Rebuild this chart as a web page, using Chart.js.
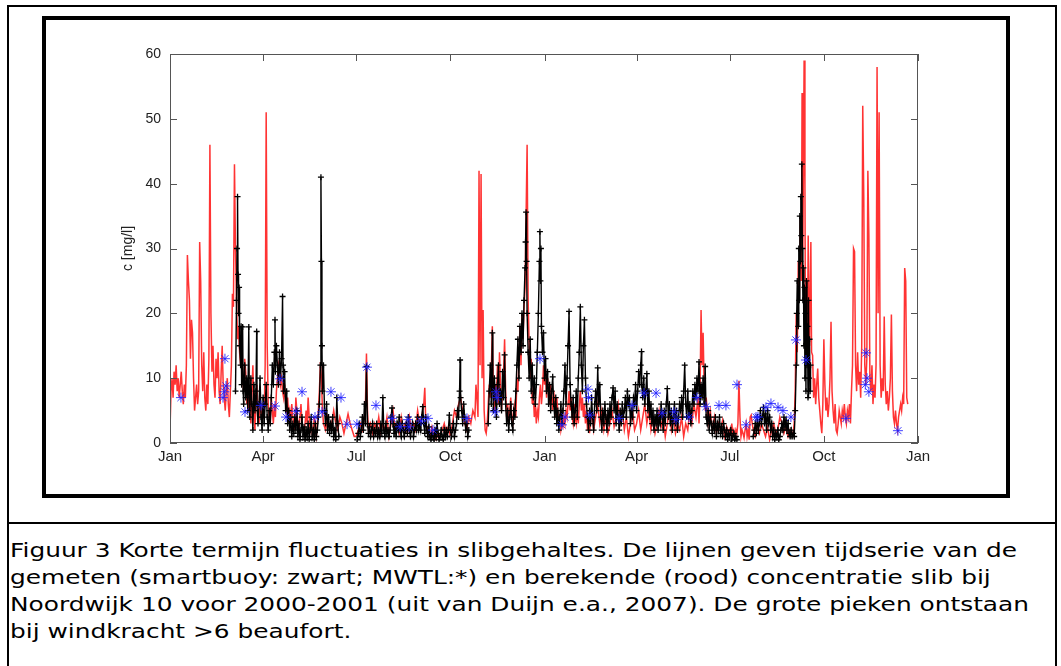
<!DOCTYPE html>
<html>
<head>
<meta charset="utf-8">
<script src="https://cdn.jsdelivr.net/npm/chart.js@4.4.1/dist/chart.umd.min.js"></script>
<style>
  body { margin: 0; background: #fff; }
  #outer { position: absolute; left: 7px; top: 5px; width: 1046px; height: 700px; border: 2px solid #000; }
  #frame { position: absolute; left: 42px; top: 16px; width: 960px; height: 474px; border: 4px solid #000; }
  #sep { position: absolute; left: 7px; top: 522px; width: 1050px; border-top: 2px solid #000; }
  #caption { position: absolute; left: 10px; top: 537px; font-family: "DejaVu Sans", Verdana, sans-serif;
             font-size: 19px; line-height: 27px; color: #000; white-space: nowrap;
             transform: scaleX(1.307); transform-origin: 0 0; }
  #chart { position: absolute; left: 46px; top: 20px; }
</style>
</head>
<body>
<div id="outer"></div>
<div id="frame"></div>
<canvas id="chart" width="960" height="474"></canvas>
<div id="sep"></div>
<div id="caption">Figuur 3 Korte termijn fluctuaties in slibgehaltes. De lijnen geven tijdserie van de<br>gemeten (smartbuoy: zwart; MWTL:*) en berekende (rood) concentratie slib bij<br>Noordwijk 10 voor 2000-2001 (uit van Duijn e.a., 2007). De grote pieken ontstaan<br>bij windkracht &gt;6 beaufort.</div>

<script>
// days since 1 Jan 2000
const xTickDays = [0, 91, 182, 274, 366, 456, 547, 639, 731];
const xTickLabels = ['Jan', 'Apr', 'Jul', 'Oct', 'Jan', 'Apr', 'Jul', 'Oct', 'Jan'];

// berekend (rood): [day, mg/l]
const modelSeries = [
  [0,2],[1,8],[2,10],[3,7],[4,11],[5,9],[6,12],[7,8],[8,10],[9,7],[10,9],[11,11],[12,8],[13,6],[14,9],[15,7],[16,12],
  [17,29],[18,25],[19,22],[20,13],[21,19],[22,17],[23,10],[24,5],[25,7],[26,9],[27,6],[28,8],[29,31],[30,25],[31,12],
  [32,8],[33,14],[34,7],[35,5],[36,9],[37,6],[38,13],[39,46],[40,20],[41,11],[42,15],[43,9],[44,7],[45,13],[46,10],
  [47,14],[48,8],[49,6],[50,11],[51,15],[52,9],[53,7],[54,5],[55,8],[56,10],[57,6],[58,4],[59,8],[60,12],[61,23],
  [62,21],[63,43],[64,30],[65,22],[66,16],[67,18],[68,14],[69,12],[70,15],[71,10],[72,8],[73,13],[74,11],[75,6],
  [76,9],[77,5],[78,7],[79,3],[80,8],[81,12],[82,5],[83,2],[84,6],[85,9],[86,4],[87,3],[88,7],[89,5],[90,3],[91,6],
  [92,4],[93,12],[94,51],[95,15],[96,6],[97,4],[98,3],[99,7],[100,5],[101,3],[102,6],[103,4],[104,8],[105,10],
  [106,12],[107,11],[108,9],[109,10],[110,8],[111,7],[112,9],[113,6],[114,5],[115,7],[116,4],[117,5],[118,3],[119,6],
  [120,4],[121,3],[122,2],[123,7],[124,5],[125,3],[126,2],[127,4],[128,6],[129,3],[130,2],[131,1.5],[132,3],[133,5],
  [134,3],[135,7],[136,4],[137,2],[138,3],[139,1.5],[140,2],[141,4],[142,2],[143,1],[144,3],[145,5],[146,8],
  [147,12.5],[148,10],[149,5],[150,3],[152,2],[154,4],[156,2.5],[158,3],[160,5],[162,3],[164,2],[166,4],[168,3],
  [170,1.5],[172,3],[174,4.5],[176,3],[178,2],[180,1],[182,1],[184,2],[186,3],[188,2],[190,4],[191,6],[192,13.8],
  [193,5],[194,2],[196,3],[198,1.5],[200,3],[202,2],[204,4],[206,1.5],[208,3],[210,2],[212,4],[214,1],[216,3],
  [218,5],[220,2],[222,3],[224,1.5],[226,4],[228,2],[230,3],[232,1.5],[234,4],[236,2],[238,3],[240,2],[242,5],
  [244,3],[246,4],[248,6],[249,8.5],[250,3],[252,2],[254,1],[256,2.5],[258,1],[260,0.5],[262,1.5],[264,1],[266,2],
  [268,3],[270,1.5],[272,2.5],[274,1],[276,3],[278,5],[280,4],[282,6],[284,7],[286,5],[288,3],[290,2],[292,4],
  [294,3],[296,5],[298,4],[299,9],[300,7],[301,4],[302,42],[303,12],[304,41.5],[305,10],[306,20.5],[307,5],[308,2],
  [309,1.5],[310,3],[311,6],[312,9],[313,7],[314,11],[315,18],[316,8],[317,5],[318,9],[319,7],[320,12],[321,6],
  [322,14],[323,9],[324,5],[325,8],[326,11],[327,16],[328,8],[329,4],[330,6],[331,3],[332,5],[333,7],[334,4],[335,3],
  [336,5],[337,6],[338,4],[339,10],[340,8],[341,13],[342,18],[343,12],[344,20],[345,16],[346,21],[347,24],[348,35],
  [349,46],[350,22],[351,15],[352,10],[353,13],[354,6],[355,8],[356,4],[357,6],[358,3],[359,5],[360,4],[361,7],
  [362,9],[363,6],[364,8],[365,12],[366,9],[367,11],[368,7],[369,10],[370,8],[371,6],[372,9],[373,7],[374,5],[375,8],
  [376,6],[377,4],[378,7],[379,5],[380,3],[381,4],[382,2],[383,3],[384,2.5],[385,4],[386,3],[387,5],[388,4],[389,6],
  [390,8],[391,5],[392,7],[393,4],[394,3],[395,6],[396,4],[397,3],[398,5],[399,3],[400,6],[401,8],[402,5],[403,7],
  [404,4],[405,6],[406,3],[407,5],[408,2],[409,4],[410,1.5],[412,5],[414,2],[416,4],[418,6],[420,3],[422,5],[424,2],
  [426,4],[428,1.5],[430,3],[432,5],[434,2.5],[436,4],[438,6],[440,3],[442,5],[444,2],[446,4],[448,1],[450,3],
  [452,5],[454,2],[456,3],[458,5],[460,2],[462,4],[464,6],[466,3],[468,5],[470,2],[472,4],[474,1.5],[476,3],[478,5],
  [480,2.5],[482,4],[484,1],[486,3],[488,5],[490,2],[492,4],[494,1.5],[496,3],[498,2],[500,4],[502,1],[504,3],
  [506,2],[508,5],[510,3],[512,6],[514,4],[516,7],[517,3],[518,8],[519,20.5],[520,12],[521,17],[522,9],[523,5],
  [524,7],[526,3],[528,5],[530,2],[532,4],[534,1.5],[536,3],[538,2],[540,3.5],[542,1],[544,2.5],[546,1.5],[547,2],
  [548,1],[549,3],[550,1.5],[551,2],[552,1],[553,2],[554,1.5],[555,3],[556,9.6],[557,4],[558,1],[559,2],[560,1.5],
  [561,0.8],[562,2],[563,3],[564,1],[565,2],[566,0.5],[567,4],[568,4.3],[569,3],[570,2],[572,1],[574,2.5],[576,1.5],
  [578,3],[580,2],[582,1],[584,2.5],[586,0.5],[588,2],[590,3],[592,1.5],[594,2],[596,4],[598,3],[600,1.5],[602,2.5],
  [604,1],[606,2],[608,1.5],[609,1.5],[610,3],[611,8],[612,20],[613,14],[614,28],[615,22],[616,35],[617,25],
  [617.7,54],[618.5,30],[619.7,59],[620.5,40],[621,18],[622,25],[623,15],[623.7,32],[624.5,20],[625,15],[626.3,31],
  [627,14],[628,13.5],[629,7],[630,10],[631,6],[632,9],[633,11.5],[634,7],[635,5],[636,3],[637,1.5],[638,6],[639,16],
  [640,9],[641,5],[642,7],[643,4],[644,6],[645,10],[646,18.7],[647,8],[648,5],[649,3],[650,6],[651,2],[652,1.5],
  [653,3],[654,5],[655,4],[656,3],[657,5],[658,4],[659,6],[660,4],[661,3],[662,5],[663,4],[664,6],[665,3],[666,8],
  [667,12],[668,30],[669,29.5],[670,12],[671,8],[672,14],[673,9],[674,11],[675,7],[676,15],[677,52],[678,38],
  [679,12],[680,9],[681,13],[682,42],[683,32],[684,10],[685,8],[686,12],[687,6],[688,9],[689,7],[690,12],[691,58],
  [692,20],[693,51],[694,12],[695,7],[696,10],[697,8],[698,19.5],[699,9],[700,6],[701,8],[702,5],[703,7],[704,10],
  [705,19.8],[706,8],[707,4],[708,3],[709,5],[710,3],[711,2],[712,4],[713,5],[714,6],[715,5],[716,7],[717,6],
  [718,27],[719,25],[720,7],[721,6]
];

// gemeten smartbuoy (zwart), null = no data
const buoySeries = [
  [64,8],[65,22],[65.5,30],[66,38],[66.5,26],[67,20],[67.5,24],[68,15],[69,12],[69.5,18],[70,9],[71,17.9],[71.5,8],
  [72,6],[73,12],[74,7],[75,10],[76,5],[77,17.9],[77.5,8],[78,4],[79,10],[80,6],[81,2],[82,9],[83,5],[84,8],
  [84.7,17.2],[85,6],[86,3],[87,6],[88,10],[89,4],[90,2],[91,7],[92,3],[93,6],[94,9],[95,4],[96,2],[97,5],[98,3],
  [99,7],[100,12],[101,9],[102,14],[102.6,19],[103,11],[104,15],[105,12],[106,9],[107,14],[108,10],[109,13],
  [110,22.6],[110.5,12],[111,8],[112,11],[113,5],[114,8],[115,3],[116,5],[117,2],[118,4],[119,1],[120,3],[121,1.5],
  [122,4],[123,2],[124,5],[125,1],[126,3],[127,0.5],[128,2],[129,4],[130,1],[131,2.5],[132,0.5],[133,2],[134,1],
  [135,3],[136,0.5],[137,2],[138,4],[139,1],[140,2],[141,0.5],[142,3],[143,1],[144,2],[145,4],[146,6],[147,12],
  [147.5,41],[148,28],[148.5,15],[149,8],[150,12],[151,5],[152,3],[153,6],[154,2],[155,4],[156,1.5],[157,3],[158,2],
  [159,4],[160,1],[161,2],[162,0.5],[163,7],[164,3],[165,1],
  [170,null],
  [183,0.5],[184,1.5],[185,3],[186,1],[187,2],[188,4],[189,2],[190,6],[191,3],[192,11.8],[193,3],[194,1.5],
  [195,2.5],[196,1],[197,2],[198,3],[199,1],[200,2],[201,1.5],[202,3],[203,1],[204,2],[205,1],[206,3],[207,1.5],
  [208,7],[209,2],[210,1],[211,3],[212,1.5],[213,2],[214,1],[215,2],[216,4],[217,5.4],[218,3],[219,1.5],[220,2.5],
  [221,1],[222,3],[223,2],[224,4],[225,2],[226,1],[227,3],[228,2],[229,1],[230,2],[231,3],[232,1.5],[233,4],[234,2],
  [235,1],[236,2],[237,3],[238,1],[239,2],[240,3],[241,2],[242,4],[243,2],[244,3],[245,2],[246,4],[247,5.6],[248,3],
  [249,1.5],[250,4],[251,2],[252,1],[253,2.5],[254,1],[255,0.5],[256,1.5],[257,1],[258,0.5],[259,2],[260,1],[261,3],
  [262,1.5],[263,0.5],[264,1],[265,2],[266,1],[267,0.5],[268,2],[269,1],[270,2],[271,1],[272,2],[273,4.3],[274,2],
  [275,1],[276,2],[277,3],[278,1],[279,2],[280,3],[281,5],[282,4],[283,8],[283.5,12.8],[284,7],[285,5],[286,3],
  [287,6],[288,4],[289,2],[290,3],[291,1],[292,2],
  [300,null],
  [311,3],[312,8],[313,12],[314,6],[315,17],[315.5,9],[316,5],[317,10],[318,7],[319,4],[320,9],[321,12],[322,6],
  [323,8],[324,5],[325,11],[326,7],[327,13.6],[328,6],[329,3],[330,5],[331,2],[332,4],[333,6],[334,3],[335,2],
  [336,5],[337,4],[338,8],[339,12],[340,16],[341,10],[342,18],[343,14],[344,20],[345,15],[346,22],[347,27],
  [347.5,31],[348,35.6],[348.5,28],[349,20],[350,14],[351,10],[352,16],[353,8],[354,12],[355,7],[356,10],[357,6],
  [358,9],[359,14],[360,20],[361,28],[361.5,32.6],[362,25],[362.5,30],[363,18],[364,14],[365,17],[366,10],[367,13],
  [368,8],[369,11],[370,6],[371,9],[372,5],[373,8],[374,10.2],[375,6],[376,4],[377,7],[378,3],[379,5],[380,2],
  [381,4],[382,6],[383,3],[384,5],[385,8],[386,12],[387,6],[388,10],[389,15],[390,20.3],[391,9],[392,6],[393,4],
  [394,7],[395,3],[396,5],[397,8],[398,4],[399,10],[400,14],[401,21],[402,12],[403,8],[404,15],[405,19],[406,10],
  [407,6],[408,4],[409,2],[410,5],[411,3],[412,7],[413,4],[414,2],[415,6],[416,8],[417,5],[418,11.6],[419,6],[420,9],
  [421,4],[422,2],[423,5],[424,3],[425,6],[426,4],[427,2],[428,5],[429,3],[430,6],[431,4],[432,7],[433,8.5],[434,5],
  [435,8],[436,3],[437,6],[438,4],[439,2],[440,5],[441,3],[442,6],[443,4],[444,5],[445,7],[446,4],[447,8],[448,6],
  [449,7],[450,3],[451,5],[452,4],[453,7],[454,6],[455,9],[456,5],[457,8],[458,11],[459,9],[460,12],[460.8,14.1],
  [461,9],[462,7],[463,10],[464,6],[465,8],[466,10.7],[467,5],[468,8],[469,4],[470,6],[471,3],[472,5],[473,2],[474,4],
  [475,3],[476,5],[477,2],[478,4],[479,3],[480,6],[481,4],[482,2],[483,5],[484,3],[485,6],[486,8.4],[487,4],[488,6],
  [489,3],[490,5],[491,2],[492,4],[493,6],[494,3],[495,5],[496,2],[497,4],[498,6],[499,5],[500,7],[501,4],[502,8],
  [503,12],[504,6],[505,4],[506,8],[507,4],[508,6],[509,3],[510,5],[511,8],[512,6],[513,9],[514,7],[515,10],[516,8],
  [517,12.5],[518,6],[519,9],[520,7],[521,10],[522,6],[523,11.8],[524,4],[525,3],[526,5],[527,2],[528,4],[529,3],
  [530,1.5],[531,3],[532,2],[533,4],[534,1],[535,3],[536,2],[537,4],[538,1.5],[539,2.5],[540,1],[541,3],[542,2],
  [543,1],[544,2],[545,0.5],[546,1.5],[547,1],[548,2],[549,0.5],[550,1],[551,1.5],[552,0.5],[553,1],[554,0.5],
  [560,null],
  [570,1],[571,2],[572,3],[573,1.5],[574,4],[575,2],[576,3],[577,5],[578,3],[579,4],[580,5.5],[581,3],[582,4.5],
  [583,2],[584,5],[585,3],[586,4],[587,2],[588,3],[589,1],[590,2],[591,0.5],[592,1.5],[593,1],[594,2],[595,0.5],
  [596,1],[597,2],[598,3],[599,2],[600,4],[601,2.5],[602,3.5],[603,2],[604,3],[605,1.5],[606,1],[607,2],[608,1],
  [609,1.5],[610,1],[611,5],[612,12],[612.5,20],[613,25],[614,18],[614.5,30],[615,22],[615.5,35],[616,28],
  [616.5,38],[617,32],[617.5,43],[618,30],[618.5,22],[619,27],[619.5,15],[620,24],[620.5,10],[621,20],[621.5,8],
  [622,25],[622.5,12],[623,18],[623.5,7],[624,22],[624.5,10],[625,16],[625.5,8],[626,12]
];

// gemeten MWTL (*)
const mwtlSeries = [
  [10.7,7],[51.8,7],[53.2,7.9],[53.7,13],[54.7,8.8],[73.3,4.8],[88.9,5.8],[102.6,5.7],[107.5,9.9],[113.4,4],
  [123.1,4.9],[129,7.9],[141.7,4],[148.5,4.8],[157.3,7.9],[167.1,7],[173,2.9],[182.7,2.9],[192.5,11.7],[201.3,5.8],
  [217,3.8],[224.8,2.5],[232.6,3.6],[233.6,2.5],[245.3,3.4],[252.1,3.8],[257,2],[290.2,3.8],[317.6,4.8],[318.6,7.9],
  [319.6,7],[361.6,13],[383,2.8],[386,4],[408.5,8.3],[409,7],[410.4,4.3],[438.8,3.8],[451.5,5.8],[463.2,7.7],
  [475,7.7],[480.8,4.6],[492.5,4.8],[494.5,3.6],[507.2,4],[515,7],[523.8,5.6],[536.5,5.8],[543.3,5.8],[554.1,9],
  [563,2.8],[572.7,4],[574.6,4],[582.4,5.5],[587.3,6.1],[594.2,5.5],[599,5],[606.8,4],[611.7,15.9],[621.5,12.8],
  [660.6,3.8],[679.5,9],[680.2,13.9],[681.2,10],[683,7.9],[711.4,1.9]
];

const toXY = arr => arr.map(p => ({ x: p[0], y: p[1] }));

// matlab style box with inward ticks on all four sides
const boxTicks = {
  id: 'boxTicks',
  afterDatasetsDraw(chart) {
    const { ctx, chartArea: a, scales: { x, y } } = chart;
    ctx.save();
    ctx.strokeStyle = '#555';
    ctx.lineWidth = 1;
    ctx.strokeRect(a.left + 0.5, a.top + 0.5, a.width - 1, a.height - 1);
    ctx.beginPath();
    x.ticks.forEach(t => {
      const px = Math.round(x.getPixelForValue(t.value)) + 0.5;
      ctx.moveTo(px, a.bottom); ctx.lineTo(px, a.bottom - 7);
      ctx.moveTo(px, a.top); ctx.lineTo(px, a.top + 7);
    });
    y.ticks.forEach(t => {
      const py = Math.round(y.getPixelForValue(t.value)) + 0.5;
      ctx.moveTo(a.left, py); ctx.lineTo(a.left + 7, py);
      ctx.moveTo(a.right, py); ctx.lineTo(a.right - 7, py);
    });
    ctx.stroke();
    ctx.restore();
  }
};

document.addEventListener("DOMContentLoaded", () => {
  const tickFont = { family: '"Liberation Sans", Arial, sans-serif', size: 14 };

  new Chart(document.getElementById('chart'), {
    type: 'line',
    data: {
      datasets: [{
        label: 'MWTL',
        data: toXY(mwtlSeries),
        showLine: false,
        pointStyle: 'star',
        pointRadius: 5,
        pointBorderColor: 'rgba(30,30,255,0.85)',
        pointBorderWidth: 1,
        order: 1
      }, {
        label: 'smartbuoy',
        data: toXY(buoySeries),
        borderColor: '#000',
        borderWidth: 1.4,
        pointStyle: 'cross',
        pointRadius: 3,
        pointBorderColor: '#000',
        pointBorderWidth: 1.3,
        spanGaps: false,
        order: 2
      }, {
        label: 'berekend',
        data: toXY(modelSeries),
        borderColor: 'rgba(255,0,0,0.8)',
        borderWidth: 1.5,
        pointRadius: 0,
        order: 3
      }]
    },
    options: {
      responsive: false,
      animation: false,
      devicePixelRatio: 1,
      layout: { padding: { left: 0, top: 34, right: 88, bottom: 0 } },
      plugins: { legend: { display: false }, tooltip: { enabled: false } },
      scales: {
        x: {
          type: 'linear',
          min: 0,
          max: 731,
          grid: { display: false, drawTicks: false },
          border: { display: false },
          afterBuildTicks: scale => { scale.ticks = xTickDays.map(v => ({ value: v })); },
          afterFit: scale => { scale.height = 51; },
          ticks: {
            autoSkip: false,
            maxRotation: 0,
            padding: 5,
            color: '#222',
            font: { family: '"Liberation Sans", Arial, sans-serif', size: 15 },
            callback: (v, i) => xTickLabels[i]
          }
        },
        y: {
          min: 0,
          max: 60,
          grid: { display: false, drawTicks: false },
          border: { display: false },
          afterFit: scale => { scale.width = 124; },
          ticks: { stepSize: 10, padding: 9, color: '#222', font: tickFont },
          title: {
            display: true,
            text: 'c [mg/l]',
            color: '#222',
            font: tickFont,
            padding: { top: 74, bottom: 0 }
          }
        }
      }
    },
    plugins: [boxTicks]
  });
});
</script>
</body>
</html>
